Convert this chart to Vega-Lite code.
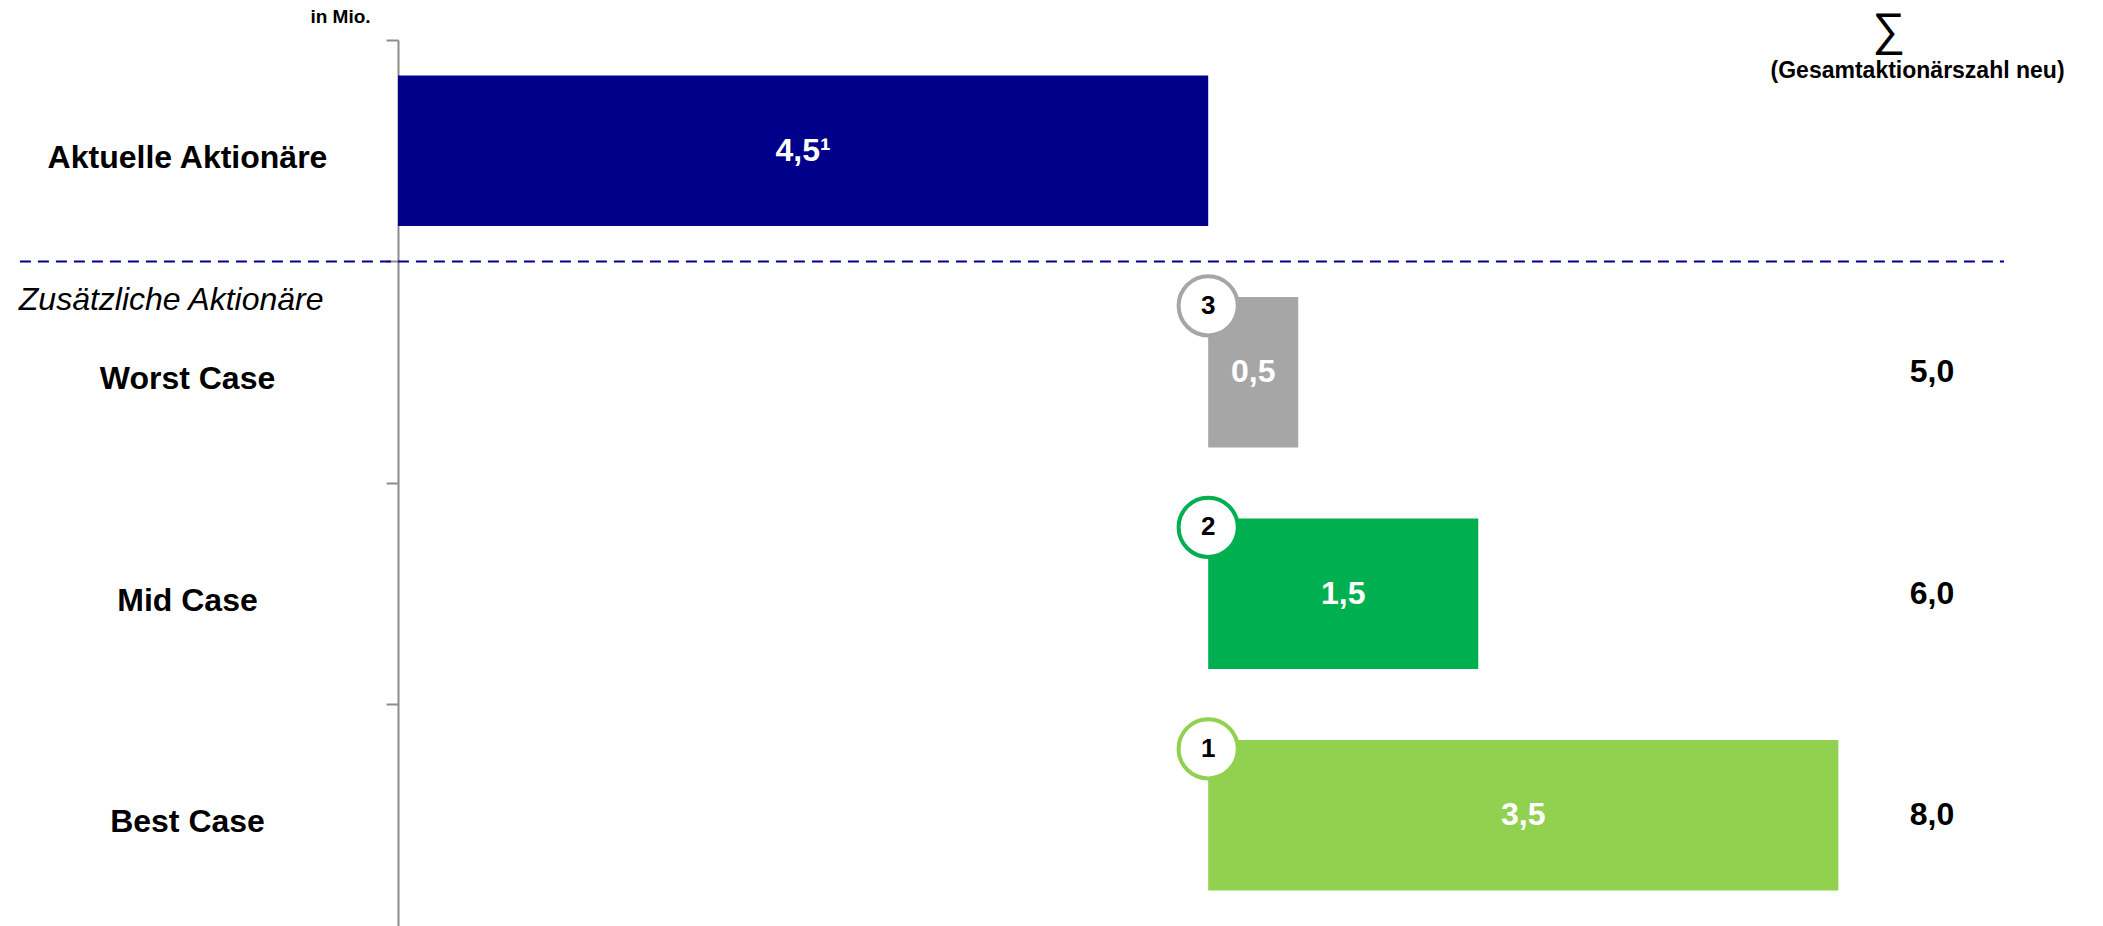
{
  "$schema": "https://vega.github.io/schema/vega-lite/v6.json",
  "autosize": {"type": "none"},
  "padding": {"left": 398, "top": 40, "right": 0, "bottom": 0},
  "width": 1705,
  "height": 886,
  "config": {"font": "Liberation Sans", "view": {"stroke": null}},
  "datasets": {
    "rows": [
      {"case": "Aktuelle Aktionäre", "start": 0, "end": 4.5, "label": "4,5¹", "rank": null, "total": null},
      {"case": "Worst Case", "start": 4.5, "end": 5.0, "label": "0,5", "rank": "3", "total": "5,0"},
      {"case": "Mid Case", "start": 4.5, "end": 6.0, "label": "1,5", "rank": "2", "total": "6,0"},
      {"case": "Best Case", "start": 4.5, "end": 8.0, "label": "3,5", "rank": "1", "total": "8,0"}
    ]
  },
  "layer": [
    {
      "data": {"name": "rows"},
      "mark": {"type": "bar", "height": {"band": 0.68}},
      "encoding": {
        "x": {"field": "start", "type": "quantitative", "scale": {"domain": [0, 9.47], "nice": false, "zero": false}, "axis": null},
        "x2": {"field": "end"},
        "y": {
          "field": "case", "type": "nominal",
          "scale": {"domain": ["Aktuelle Aktionäre", "Worst Case", "Mid Case", "Best Case"], "paddingInner": 0, "paddingOuter": 0},
          "axis": {
            "bandPosition": 0,
            "domainColor": "#8C8C8C", "domainWidth": 2,
            "tickColor": "#8C8C8C", "tickWidth": 2, "tickSize": 12,
            "labelAlign": "center", "labelPadding": 199, "labelOffset": 7,
            "labelFontSize": 32, "labelFontWeight": "bold", "labelColor": "#000000", "labelLimit": 0,
            "title": "in Mio.", "titleAngle": 0, "titleX": -58, "titleY": -24,
            "titleAlign": "center", "titleBaseline": "middle",
            "titleFontSize": 19, "titleFontWeight": "bold", "titleColor": "#000000"
          }
        },
        "color": {
          "field": "case", "type": "nominal", "legend": null,
          "scale": {"domain": ["Aktuelle Aktionäre", "Worst Case", "Mid Case", "Best Case"], "range": ["#00008B", "#A6A6A6", "#00B050", "#92D050"]}
        }
      }
    },
    {
      "data": {"name": "rows"},
      "transform": [{"fold": ["start", "end"], "as": ["edge", "pos"]}],
      "mark": {"type": "text", "color": "#FFFFFF", "fontSize": 32, "fontWeight": "bold", "align": "center", "baseline": "middle"},
      "encoding": {
        "x": {"aggregate": "mean", "field": "pos", "type": "quantitative", "axis": null},
        "y": {"field": "case", "type": "nominal"},
        "text": {"field": "label", "type": "nominal"}
      }
    },
    {
      "data": {"name": "rows"},
      "transform": [{"filter": "datum.rank != null"}],
      "mark": {"type": "point", "shape": "circle", "size": 3500, "filled": true, "fill": "#FFFFFF", "strokeWidth": 4, "opacity": 1, "fillOpacity": 1, "strokeOpacity": 1},
      "encoding": {
        "x": {"field": "start", "type": "quantitative", "axis": null},
        "y": {"field": "case", "type": "nominal", "bandPosition": 0.2},
        "stroke": {
          "field": "case", "type": "nominal", "legend": null,
          "scale": {"domain": ["Aktuelle Aktionäre", "Worst Case", "Mid Case", "Best Case"], "range": ["#00008B", "#A6A6A6", "#00B050", "#92D050"]}
        }
      }
    },
    {
      "data": {"name": "rows"},
      "transform": [{"filter": "datum.rank != null"}],
      "mark": {"type": "text", "color": "#000000", "fontSize": 26, "fontWeight": "bold", "align": "center", "baseline": "middle"},
      "encoding": {
        "x": {"field": "start", "type": "quantitative", "axis": null},
        "y": {"field": "case", "type": "nominal", "bandPosition": 0.2},
        "text": {"field": "rank", "type": "nominal"}
      }
    },
    {
      "data": {"name": "rows"},
      "transform": [{"filter": "datum.total != null"}],
      "mark": {"type": "text", "color": "#000000", "fontSize": 32, "fontWeight": "bold", "align": "center", "baseline": "middle"},
      "encoding": {
        "x": {"datum": 8.52, "type": "quantitative", "axis": null},
        "y": {"field": "case", "type": "nominal"},
        "text": {"field": "total", "type": "nominal"}
      }
    },
    {
      "data": {"values": [{"from": -2.1, "to": 8.92}]},
      "mark": {"type": "rule", "color": "#00008B", "strokeWidth": 2, "strokeDash": [11, 7]},
      "encoding": {
        "x": {"field": "from", "type": "quantitative", "axis": null},
        "x2": {"field": "to"},
        "y": {"datum": "Worst Case", "type": "nominal", "bandPosition": 0}
      }
    },
    {
      "data": {"values": [{"text": "Zusätzliche Aktionäre"}]},
      "mark": {"type": "text", "color": "#000000", "fontSize": 32, "fontStyle": "italic", "align": "center", "baseline": "middle"},
      "encoding": {
        "x": {"datum": -1.26, "type": "quantitative", "axis": null},
        "y": {"datum": "Worst Case", "type": "nominal", "bandPosition": 0.175},
        "text": {"field": "text", "type": "nominal"}
      }
    },
    {
      "data": {"values": [{"text": "∑"}]},
      "mark": {"type": "text", "color": "#000000", "fontSize": 46, "align": "center", "baseline": "middle"},
      "encoding": {
        "x": {"datum": 8.28, "type": "quantitative", "axis": null},
        "y": {"datum": "Aktuelle Aktionäre", "type": "nominal", "bandPosition": -0.04},
        "text": {"field": "text", "type": "nominal"}
      }
    },
    {
      "data": {"values": [{"text": "(Gesamtaktionärszahl neu)"}]},
      "mark": {"type": "text", "color": "#000000", "fontSize": 23, "fontWeight": "bold", "align": "center", "baseline": "middle"},
      "encoding": {
        "x": {"datum": 8.44, "type": "quantitative", "axis": null},
        "y": {"datum": "Aktuelle Aktionäre", "type": "nominal", "bandPosition": 0.14},
        "text": {"field": "text", "type": "nominal"}
      }
    }
  ]
}
